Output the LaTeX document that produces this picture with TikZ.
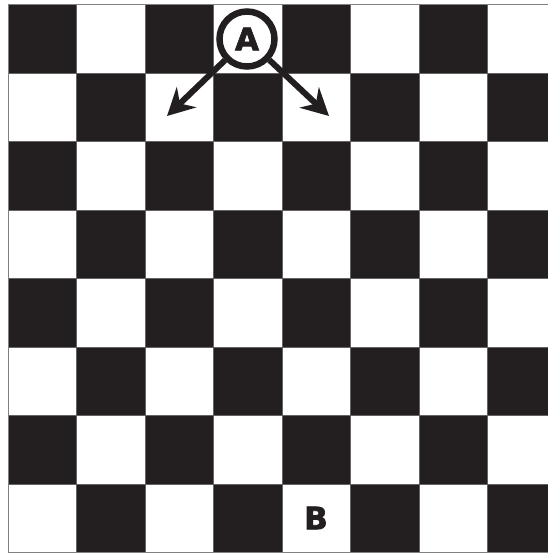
\documentclass[tikz,border=0pt]{standalone}
\usepackage{fontspec}
\newfontfamily\heavy{DejaVu Sans}[BoldFeatures={FakeBold=2.2}]
\usetikzlibrary{arrows.meta}
\definecolor{sq}{HTML}{231F20}
\tikzset{
  darksq/.style={fill=sq},
  label/.style={font=\heavy\bfseries\fontsize{31}{31}\selectfont, text=sq, inner sep=0pt},
  ring/.style={circle, draw=sq, line width=6.5pt, minimum size=55pt, inner sep=0pt},
  movearrow/.style={draw=sq, line width=6pt, -{Stealth[length=27pt, width=28pt, inset=9pt]}}
}
\begin{document}
\begin{tikzpicture}[x=1pt, y=-1pt]
\useasboundingbox (0,0) rectangle (548,554);
\clip (0,0) rectangle (548,554);
\fill[white] (0,0) rectangle (548,554);
% board
\foreach \r in {0,...,7} {
  \foreach \c in {0,...,7} {
    \pgfmathtruncatemacro{\parity}{mod(\r+\c,2)}
    \ifnum\parity=0
      \fill[darksq, draw=sq!70, line width=0.6pt] ({8+68.5*\c},{4.7+68.5*\r}) rectangle ++(68.5,68.5);
    \fi
  }
}
\draw[gray, line width=1pt] (8,4.7) rectangle (556,552.7);
% pieces
\node[ring, fill=white] (A) at (247,39) {};
\node[label] (Atext) at (A.center) {A};
\coordinate (tipL) at (167,116);
\coordinate (tipR) at (329,116);
\draw[movearrow] (A) -- (tipL);
\draw[movearrow] (A) -- (tipR);
\node[label] (B) at (316,518) {B};
\end{tikzpicture}
\end{document}
